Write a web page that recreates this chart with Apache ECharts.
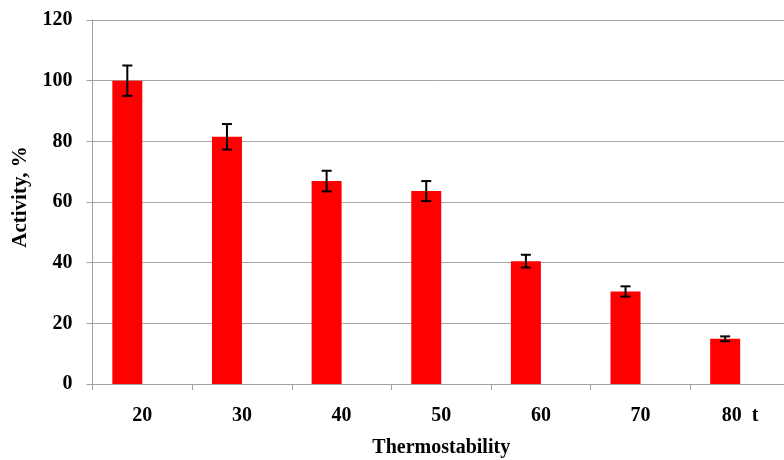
<!DOCTYPE html>
<html>
<head>
<meta charset="utf-8">
<script src="https://cdn.jsdelivr.net/npm/echarts@6/dist/echarts.min.js"></script>
<style>
html,body{margin:0;padding:0;background:#fff;}
#chart{width:784px;height:460px;}
</style>
</head>
<body>
<div id="chart"></div>
<script>
const categories = ['20', '30', '40', '50', '60', '70', '80'];
const xUnit = 't';
const activity = [100, 81.5, 66.9, 63.6, 40.5, 30.5, 14.9];
const errors = [5, 4.2, 3.4, 3.3, 2.1, 1.7, 0.8];
const yTicks = { min: 0, max: 120, interval: 20 };

const chart = echarts.init(document.getElementById('chart'));
const font = { fontFamily: 'Liberation Serif', fontWeight: 'bold', fontSize: 20, color: '#000' };
const BAR_W = 30;

const errData = activity.map((v, i) => [i, v - errors[i], v + errors[i]]);

chart.setOption({
  animation: false,
  grid: { left: 92.5, right: -6, top: 20, bottom: 76, outerBoundsMode: 'none', containLabel: false },
  xAxis: {
    type: 'category',
    data: categories,
    name: 'Thermostability',
    nameLocation: 'middle',
    nameGap: 54,
    nameTextStyle: Object.assign({}, font),
    axisLine: { lineStyle: { color: '#a0a0a0', width: 1 } },
    axisTick: { show: true, length: 6, lineStyle: { color: '#a0a0a0' } },
    axisLabel: Object.assign({}, font, {
      margin: 22,
      formatter: (v, i) => i === categories.length - 1 ? v + '  ' + xUnit : v
    })
  },
  yAxis: {
    type: 'value',
    min: yTicks.min, max: yTicks.max, interval: yTicks.interval,
    name: 'Activity, %',
    nameLocation: 'middle',
    nameGap: 61,
    nameRotate: 90,
    nameTextStyle: Object.assign({}, font, { fontSize: 21, padding: [0, 0, 0, 10] }),
    axisLine: { show: true, lineStyle: { color: '#a0a0a0', width: 1 } },
    axisTick: { show: true, length: 6, lineStyle: { color: '#a0a0a0' } },
    axisLabel: Object.assign({}, font, { margin: 20 }),
    splitLine: { lineStyle: { color: '#a6a6a6', width: 1 } }
  },
  series: [
    {
      type: 'bar',
      data: activity,
      barWidth: BAR_W,
      barGap: '0%',
      itemStyle: { color: '#ff0000' }
    },
    {
      type: 'bar',
      data: activity.map(() => null),
      barWidth: BAR_W
    },
    {
      type: 'custom',
      data: errData,
      z: 10,
      renderItem: function (params, api) {
        const i = api.value(0);
        const lo = api.coord([i, api.value(1)]);
        const hi = api.coord([i, api.value(2)]);
        const x = lo[0] - BAR_W / 2;
        const cap = 5;
        const style = { stroke: '#000', lineWidth: 2 };
        return {
          type: 'group',
          children: [
            { type: 'line', shape: { x1: x, y1: lo[1], x2: x, y2: hi[1] }, style },
            { type: 'line', shape: { x1: x - cap, y1: lo[1], x2: x + cap, y2: lo[1] }, style },
            { type: 'line', shape: { x1: x - cap, y1: hi[1], x2: x + cap, y2: hi[1] }, style }
          ]
        };
      }
    }
  ]
});
</script>
</body>
</html>
